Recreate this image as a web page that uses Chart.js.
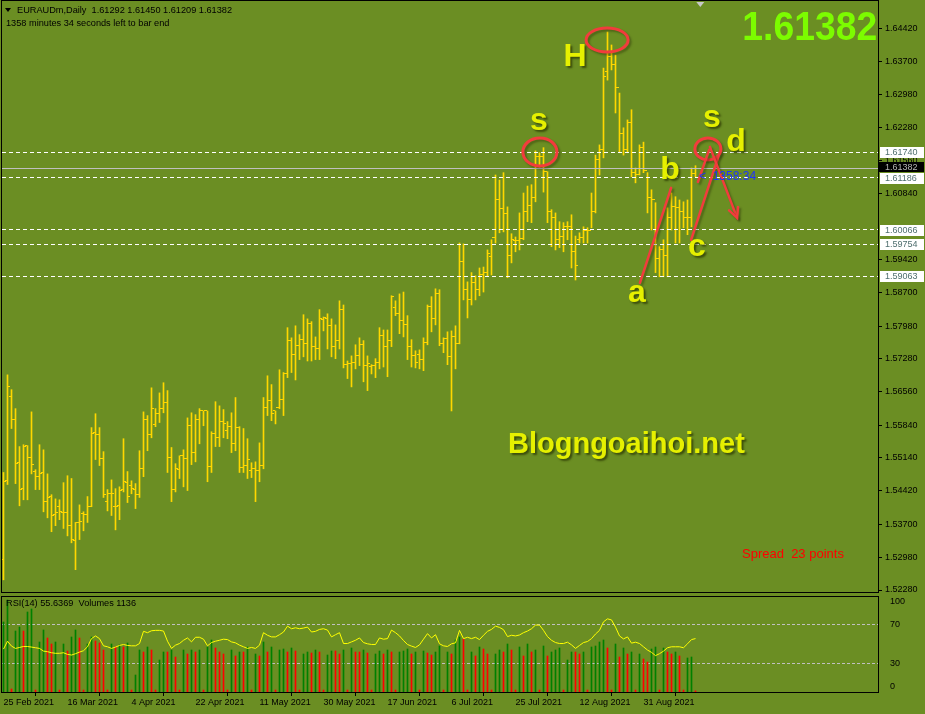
<!DOCTYPE html>
<html>
<head>
<meta charset="utf-8">
<title>EURAUDm, Daily</title>
<script src="https://cdn.jsdelivr.net/npm/chart.js@4.4.1/dist/chart.umd.min.js"></script>
<style>
  html, body { margin: 0; padding: 0; background: #6b8e23; }
  #stage { position: relative; width: 925px; height: 714px; overflow: hidden; background: #6b8e23;
           font-family: "Liberation Sans", Arial, sans-serif; }
  canvas { position: absolute; left: 0; }
  #priceCanvas { top: 0; }
  #rsiCanvas { top: 590px; }
  .lbl { position: absolute; white-space: pre; font-size: 9.2px; line-height: 11px; color: #000; }
  .tri { position: absolute; left: 5px; top: 8px; width: 0; height: 0;
         border-left: 3px solid transparent; border-right: 3px solid transparent; border-top: 4px solid #000; }
  .wave { position: absolute; font: bold 32px/32px "Liberation Sans", Arial, sans-serif; color: #e6f000;
          text-shadow: 2px 2px 2px rgba(40, 50, 0, .7); transform: translate(-50%, -50%); }
  #blog { position: absolute; left: 508px; top: 429px; font: bold 29px/29px "Liberation Sans", Arial, sans-serif;
          color: #e6f000; text-shadow: 2px 2px 2px rgba(40, 50, 0, .7); white-space: pre; }
  #bigPrice { position: absolute; right: 48px; top: 6px; font: bold 41px/41px "Liberation Sans", Arial, sans-serif;
              color: #7cfc00; transform: scaleX(0.91); transform-origin: right top; }
  #spread { position: absolute; left: 742px; top: 547px; font: 13px/13px "Liberation Sans", Arial, sans-serif;
            color: #ff0000; white-space: pre; }
  #timer { position: absolute; left: 699px; top: 170px; font: 12px/12px "Liberation Sans", Arial, sans-serif;
           color: #1e32ff; white-space: pre; }
</style>
</head>
<body>
<div id="stage">
  <canvas id="priceCanvas" width="925" height="596"></canvas>
  <canvas id="rsiCanvas" width="925" height="124"></canvas>

  <div class="tri"></div>
  <div class="lbl" style="left:17px;top:5px">EURAUDm,Daily  1.61292 1.61450 1.61209 1.61382</div>
  <div class="lbl" style="left:6px;top:18px">1358 minutes 34 seconds left to bar end</div>
  <div class="lbl" style="left:6px;top:598px">RSI(14) 55.6369  Volumes 1136</div>

  <div id="bigPrice">1.61382</div>
  <div class="wave" style="left:575px;top:55px">H</div>
  <div class="wave" style="left:539px;top:119px">s</div>
  <div class="wave" style="left:712px;top:116px">s</div>
  <div class="wave" style="left:736px;top:140px">d</div>
  <div class="wave" style="left:670px;top:168px">b</div>
  <div class="wave" style="left:697px;top:245px">c</div>
  <div class="wave" style="left:637px;top:291px">a</div>
  <div id="blog">Blogngoaihoi.net</div>
  <div id="spread">Spread  23 points</div>
  <div id="timer">&lt;  1358:34</div>
</div>

<script>
// ---------- Data (daily bars, 25 Feb 2021 .. 15 Sep 2021) ----------
const priceHigh = [
  1.5482,1.5693,1.5661,1.5620,1.5538,1.5542,1.5540,1.5613,1.5488,1.5542,
  1.5531,1.5479,1.5434,1.5425,1.5423,1.5460,1.5475,1.5469,1.5374,1.5412,
  1.5397,1.5430,1.5579,1.5609,1.5579,1.5527,1.5445,1.5466,1.5447,1.5451,
  1.5555,1.5484,1.5464,1.5458,1.5529,1.5613,1.5605,1.5665,1.5620,1.5654,
  1.5676,1.5659,1.5536,1.5501,1.5518,1.5531,1.5600,1.5611,1.5607,1.5620,
  1.5615,1.5615,1.5570,1.5635,1.5626,1.5618,1.5592,1.5611,1.5644,1.5581,
  1.5577,1.5555,1.5503,1.5505,1.5546,1.5644,1.5691,1.5672,1.5615,1.5704,
  1.5698,1.5795,1.5773,1.5799,1.5780,1.5823,1.5814,1.5808,1.5775,1.5834,
  1.5818,1.5825,1.5814,1.5801,1.5853,1.5844,1.5723,1.5734,1.5758,1.5773,
  1.5767,1.5734,1.5715,1.5728,1.5795,1.5790,1.5790,1.5864,1.5853,1.5868,
  1.5872,1.5821,1.5769,1.5745,1.5747,1.5773,1.5844,1.5862,1.5879,1.5877,
  1.5773,1.5786,1.5788,1.5799,1.5978,1.5976,1.5894,1.5914,1.5907,1.5924,
  1.5926,1.5963,1.5985,1.6125,1.6114,1.6130,1.6056,1.5998,1.5991,1.6043,
  1.6086,1.6101,1.6104,1.6177,1.6173,1.6184,1.6132,1.6050,1.6043,1.6024,
  1.6022,1.6024,1.6039,1.5993,1.6000,1.6013,1.6011,1.6086,1.6168,1.6190,
  1.6356,1.6434,1.6406,1.6384,1.6302,1.6227,1.6244,1.6266,1.6140,1.6190,
  1.6196,1.6130,1.6093,1.6065,1.5970,1.5985,1.6054,1.6086,1.6078,1.6071,
  1.6067,1.6071,1.6140,1.61450
];
const priceLow = [
  1.5250,1.5456,1.5577,1.5458,1.5410,1.5423,1.5423,1.5479,1.5445,1.5445,
  1.5397,1.5384,1.5354,1.5367,1.5380,1.5361,1.5345,1.5330,1.5272,1.5337,
  1.5356,1.5374,1.5408,1.5510,1.5497,1.5428,1.5399,1.5389,1.5358,1.5380,
  1.5440,1.5417,1.5436,1.5404,1.5428,1.5473,1.5529,1.5557,1.5581,1.5590,
  1.5611,1.5482,1.5419,1.5440,1.5469,1.5451,1.5443,1.5499,1.5505,1.5544,
  1.5583,1.5462,1.5482,1.5538,1.5538,1.5557,1.5555,1.5525,1.5529,1.5482,
  1.5482,1.5469,1.5471,1.5419,1.5462,1.5490,1.5605,1.5594,1.5587,1.5620,
  1.5605,1.5687,1.5698,1.5682,1.5726,1.5732,1.5723,1.5723,1.5726,1.5726,
  1.5788,1.5749,1.5732,1.5728,1.5749,1.5708,1.5685,1.5667,1.5706,1.5713,
  1.5678,1.5659,1.5695,1.5687,1.5706,1.5710,1.5689,1.5754,1.5821,1.5782,
  1.5775,1.5726,1.5710,1.5708,1.5706,1.5702,1.5758,1.5786,1.5801,1.5756,
  1.5741,1.5715,1.5615,1.5706,1.5760,1.5855,1.5816,1.5844,1.5855,1.5864,
  1.5872,1.5907,1.5909,1.5978,1.6000,1.6002,1.5903,1.5935,1.5959,1.5963,
  1.5985,1.6024,1.6022,1.6067,1.6142,1.6088,1.6022,1.5970,1.5963,1.5968,
  1.5959,1.5985,1.5924,1.5898,1.5978,1.5978,1.5978,1.6011,1.6043,1.6125,
  1.6162,1.6330,1.6352,1.6259,1.6173,1.6168,1.6173,1.6121,1.6108,1.6125,
  1.6130,1.6043,1.6006,1.5914,1.5905,1.5905,1.5905,1.6006,1.5978,1.5978,
  1.6011,1.5996,1.6013,1.61209
];
const priceOpen = [
  1.5294,1.5464,1.5646,1.5596,1.5503,1.5447,1.5540,1.5514,1.5484,1.5473,
  1.5482,1.5419,1.5430,1.5391,1.5408,1.5395,1.5395,1.5367,1.5335,1.5374,
  1.5393,1.5391,1.5408,1.5568,1.5564,1.5512,1.5419,1.5436,1.5408,1.5410,
  1.5445,1.5460,1.5453,1.5445,1.5434,1.5490,1.5596,1.5564,1.5585,1.5609,
  1.5620,1.5633,1.5514,1.5445,1.5488,1.5518,1.5512,1.5583,1.5525,1.5596,
  1.5615,1.5615,1.5494,1.5566,1.5557,1.5592,1.5572,1.5581,1.5544,1.5579,
  1.5492,1.5497,1.5486,1.5490,1.5486,1.5497,1.5622,1.5637,1.5615,1.5622,
  1.5639,1.5695,1.5767,1.5736,1.5756,1.5769,1.5760,1.5803,1.5754,1.5749,
  1.5812,1.5814,1.5799,1.5754,1.5767,1.5834,1.5715,1.5717,1.5719,1.5734,
  1.5758,1.5713,1.5710,1.5713,1.5719,1.5777,1.5754,1.5767,1.5838,1.5825,
  1.5810,1.5801,1.5754,1.5734,1.5736,1.5726,1.5762,1.5840,1.5814,1.5868,
  1.5760,1.5771,1.5732,1.5775,1.5760,1.5939,1.5877,1.5855,1.5892,1.5877,
  1.5909,1.5914,1.5948,1.5989,1.6071,1.6052,1.6041,1.5952,1.5983,1.5983,
  1.5987,1.6045,1.6060,1.6076,1.6164,1.6164,1.6132,1.6045,1.6034,1.5985,
  1.5991,1.6013,1.6013,1.5959,1.5985,1.5989,1.6006,1.6006,1.6045,1.6158,
  1.6179,1.6348,1.6382,1.6363,1.6313,1.6214,1.6179,1.6238,1.6130,1.6127,
  1.6184,1.6134,1.6076,1.6071,1.5944,1.5963,1.5952,1.6034,1.6056,1.6054,
  1.6045,1.6034,1.6034,1.61292
];
const priceClose = [
  1.5462,1.5667,1.5596,1.5501,1.5445,1.5538,1.5514,1.5499,1.5473,1.5479,
  1.5419,1.5428,1.5389,1.5395,1.5397,1.5395,1.5367,1.5337,1.5374,1.5376,
  1.5391,1.5408,1.5566,1.5564,1.5512,1.5434,1.5436,1.5436,1.5408,1.5443,
  1.5462,1.5430,1.5447,1.5434,1.5490,1.5596,1.5564,1.5620,1.5609,1.5620,
  1.5633,1.5514,1.5445,1.5490,1.5518,1.5512,1.5583,1.5525,1.5596,1.5615,
  1.5615,1.5494,1.5566,1.5557,1.5592,1.5587,1.5581,1.5544,1.5579,1.5492,
  1.5497,1.5510,1.5490,1.5486,1.5497,1.5622,1.5637,1.5609,1.5622,1.5639,
  1.5695,1.5767,1.5736,1.5756,1.5769,1.5760,1.5803,1.5754,1.5749,1.5814,
  1.5816,1.5799,1.5754,1.5767,1.5834,1.5715,1.5717,1.5719,1.5734,1.5758,
  1.5713,1.5717,1.5713,1.5719,1.5777,1.5754,1.5767,1.5862,1.5825,1.5810,
  1.5801,1.5754,1.5734,1.5719,1.5726,1.5762,1.5840,1.5814,1.5868,1.5760,
  1.5771,1.5732,1.5775,1.5760,1.5939,1.5877,1.5855,1.5892,1.5877,1.5909,
  1.5914,1.5955,1.5989,1.6071,1.6052,1.6041,1.5952,1.5985,1.5983,1.5987,
  1.6045,1.6060,1.6076,1.6164,1.6164,1.6132,1.6045,1.6034,1.5985,1.5991,
  1.6013,1.6013,1.5959,1.5929,1.5989,1.6006,1.6006,1.6045,1.6158,1.6179,
  1.6337,1.6382,1.6363,1.6313,1.6214,1.6179,1.6238,1.6130,1.6127,1.6184,
  1.6134,1.6076,1.6071,1.5944,1.5963,1.5952,1.6034,1.6056,1.6054,1.6045,
  1.6034,1.6034,1.6129,1.61382
];
const rsiValues = [
  44.7,52.9,47.8,45.4,46.4,47.4,47.4,46.8,46.1,45.4,
  42.6,42.0,40.9,40.3,40.3,40.9,39.2,38.5,39.9,41.6,
  43.0,47.1,55.6,58.4,55.6,48.1,47.1,45.4,46.8,48.5,
  49.5,48.5,48.1,48.1,50.5,63.2,61.8,63.8,64.2,64.2,
  63.5,52.9,45.4,48.8,50.5,53.9,56.3,52.2,57.0,57.0,
  55.0,48.1,51.5,52.9,53.9,55.0,54.6,52.2,51.2,48.8,
  47.1,45.4,46.4,45.4,48.8,61.8,59.1,57.4,57.4,59.7,
  62.5,68.6,65.9,66.9,65.9,66.6,67.6,62.5,63.2,65.2,
  65.9,64.5,57.4,59.7,61.8,50.5,50.5,52.2,53.9,56.3,
  51.5,50.2,49.5,49.5,56.3,55.0,55.6,64.5,61.8,58.4,
  53.6,49.5,47.8,46.4,49.1,55.0,60.8,56.3,59.7,50.2,
  48.1,47.4,50.2,51.2,64.2,55.6,57.0,55.6,57.0,54.6,
  59.1,63.2,65.2,68.6,67.3,64.9,57.7,59.1,58.4,59.4,
  61.8,63.5,65.9,69.7,69.7,64.2,57.7,53.9,51.5,50.5,
  50.5,51.9,49.1,45.4,48.5,51.5,52.6,55.6,60.4,64.2,
  73.1,76.2,75.1,67.6,58.4,55.3,57.4,50.9,51.9,50.5,
  47.1,43.7,41.3,37.9,39.9,42.6,46.1,47.1,47.1,47.1,
  46.1,50.2,54.6,55.6369
];
const tickVolumes = [
  70000,92000,3000,61000,65000,61000,80000,83000,2000,50000,62000,54000,
  48000,50000,2000,48000,41000,55000,62000,54000,2000,48000,55000,51000,
  49000,42000,2000,48000,45000,47000,45000,49000,2000,17000,42000,40000,
  45000,42000,2000,32000,40000,40000,42000,35000,2000,42000,38000,42000,
  40000,42000,2000,45000,52000,44000,40000,38000,2000,42000,36000,40000,
  40000,45000,2000,38000,36000,50000,40000,45000,2000,42000,43000,40000,
  44000,41000,2000,38000,40000,39000,42000,40000,2000,37000,41000,41000,
  38000,42000,2000,44000,40000,40000,42000,39000,2000,38000,41000,38000,
  42000,40000,2000,40000,41000,43000,38000,40000,2000,41000,39000,37000,
  40000,46000,2000,40000,38000,52000,55000,53000,2000,40000,36000,45000,
  43000,38000,2000,38000,42000,40000,48000,42000,2000,45000,36000,48000,
  40000,42000,2000,46000,36000,40000,42000,44000,2000,32000,40000,40000,
  38000,40000,2000,45000,46000,50000,52000,44000,2000,48000,35000,44000,
  38000,40000,2000,38000,33000,30000,43000,45000,2000,44000,40000,38000,
  40000,36000,2000,34000,35000,1136
];

const priceTicks = [1.64420, 1.63700, 1.62980, 1.62280, 1.61560, 1.60840, 1.59420, 1.58700, 1.57980,
                    1.57280, 1.56560, 1.55840, 1.55140, 1.54420, 1.53700, 1.52980, 1.52280];
const dateIndex = [0, 16, 32, 48, 64, 80, 96, 112, 128, 144, 160];
const dateLabels = ['25 Feb 2021', '16 Mar 2021', '4 Apr 2021', '22 Apr 2021', '11 May 2021', '30 May 2021',
                    '17 Jun 2021', '6 Jul 2021', '25 Jul 2021', '12 Aug 2021', '31 Aug 2021'];
const levelPrices = [1.61740, 1.61186, 1.60066, 1.59754, 1.59063];
const bidPrice = 1.61382;
const rsiLevels = [70, 30];
const rsiLabelAt = [93.8, 70, 30, 6.2];
const rsiLabels = ['100', '70', '30', '0'];

// wave markup drawn on the chart (bar index / price)
const marks = [
  { i: 150.9, p: 1.64168, rx: 21, ry: 12 },
  { i: 134.1, p: 1.61749, rx: 17, ry: 14 },
  { i: 176.1, p: 1.61814, rx: 13, ry: 11 }
];
const strokes = [
  { from: [159.1, 1.58919], to: [166.9, 1.60971] },
  { from: [171.9, 1.59848], to: [179.1, 1.61749] },
  { from: [176.4, 1.61792], to: [173.6, 1.61101] },
  { from: [176.6, 1.61857], to: [183.4, 1.60323], arrow: true }
];

// ---------- Style ----------
const BAR_COLOR = '#ffd700';
const X_MIN = -0.375, X_MAX = 218.625;
const FONT = { family: 'Liberation Sans', size: 9 };

function fixRightAxis(scale) {
  scale.width = 47;
  scale.paddingTop = 0;
  scale.paddingBottom = 0;
}

const priceOverlay = {
  id: 'priceOverlay',
  afterDatasetsDraw(chart) {
    const { ctx, chartArea: a, scales: { x, y } } = chart;
    ctx.save();
    // open / close ticks
    ctx.fillStyle = BAR_COLOR;
    priceOpen.forEach((o, i) => {
      const px = Math.floor(x.getPixelForValue(i));
      ctx.fillRect(px - 2, Math.floor(y.getPixelForValue(o)), 2, 1);
      ctx.fillRect(px + 1, Math.floor(y.getPixelForValue(priceClose[i])), 2, 1);
    });
    // horizontal levels
    ctx.lineWidth = 1;
    ctx.strokeStyle = '#ffffff';
    ctx.setLineDash([4, 3]);
    levelPrices.forEach((p) => {
      const yy = Math.floor(y.getPixelForValue(p)) + 0.5;
      ctx.beginPath(); ctx.moveTo(a.left, yy); ctx.lineTo(a.right, yy); ctx.stroke();
    });
    ctx.setLineDash([]);
    ctx.strokeStyle = '#c0c0c0';
    const yb = Math.floor(y.getPixelForValue(bidPrice)) + 0.5;
    ctx.beginPath(); ctx.moveTo(a.left, yb); ctx.lineTo(a.right, yb); ctx.stroke();

    // red markup
    ctx.strokeStyle = '#f23c3c';
    ctx.shadowColor = 'rgba(30,30,0,0.35)';
    ctx.shadowOffsetX = 2; ctx.shadowOffsetY = 2; ctx.shadowBlur = 2;
    ctx.lineWidth = 3;
    marks.forEach((m) => {
      ctx.beginPath();
      ctx.ellipse(x.getPixelForValue(m.i), y.getPixelForValue(m.p), m.rx, m.ry, 0, 0, Math.PI * 2);
      ctx.stroke();
    });
    ctx.lineWidth = 2.5;
    ctx.lineCap = 'round';
    strokes.forEach((s) => {
      const x0 = x.getPixelForValue(s.from[0]), y0 = y.getPixelForValue(s.from[1]);
      const x1 = x.getPixelForValue(s.to[0]), y1 = y.getPixelForValue(s.to[1]);
      ctx.beginPath(); ctx.moveTo(x0, y0); ctx.lineTo(x1, y1); ctx.stroke();
      if (s.arrow) {
        const ang = Math.atan2(y1 - y0, x1 - x0);
        ctx.beginPath();
        ctx.moveTo(x1 - 11 * Math.cos(ang - 0.45), y1 - 11 * Math.sin(ang - 0.45));
        ctx.lineTo(x1, y1);
        ctx.lineTo(x1 - 11 * Math.cos(ang + 0.45), y1 - 11 * Math.sin(ang + 0.45));
        ctx.stroke();
      }
    });
    ctx.restore();
  },
  afterDraw(chart) {
    const { ctx, chartArea: a, scales: { x, y } } = chart;
    ctx.save();
    // frame
    ctx.strokeStyle = '#000';
    ctx.lineWidth = 1;
    ctx.strokeRect(a.left - 0.5, 0.5, a.right - a.left + 1, a.bottom);
    // price boxes on the right axis
    ctx.font = '9px "Liberation Sans", Arial, sans-serif';
    ctx.textBaseline = 'middle';
    levelPrices.forEach((p) => {
      const yy = Math.round(y.getPixelForValue(p));
      ctx.fillStyle = '#ffffff';
      ctx.fillRect(a.right + 2, yy - 5, 44, 11);
      ctx.fillStyle = '#4f6f6f';
      ctx.fillText(p.toFixed(5), a.right + 7, yy + 0.5);
    });
    const yb = Math.round(y.getPixelForValue(bidPrice));
    ctx.fillStyle = '#000000';
    ctx.fillRect(a.right + 1, yb - 7, 45, 10);
    ctx.fillStyle = '#b4b4b4';
    ctx.fillText(bidPrice.toFixed(5), a.right + 7, yb - 1.5);
    // chart shift marker
    const xs = x.getPixelForValue(174.2);
    ctx.fillStyle = '#c8c8c8';
    ctx.beginPath(); ctx.moveTo(xs - 4, 2); ctx.lineTo(xs + 4, 2); ctx.lineTo(xs, 7); ctx.closePath(); ctx.fill();
    ctx.restore();
  }
};

new Chart(document.getElementById('priceCanvas'), {
  type: 'bar',
  data: {
    datasets: [{
      data: priceLow.map((lo, i) => ({ x: i, y: [lo, priceHigh[i]] })),
      backgroundColor: BAR_COLOR,
      borderWidth: 0,
      barThickness: 1
    }]
  },
  options: {
    responsive: false,
    animation: false,
    devicePixelRatio: 1,
    events: [],
    layout: { padding: { left: 2, top: 1, right: 0, bottom: 4 } },
    plugins: { legend: { display: false }, tooltip: { enabled: false } },
    scales: {
      x: { type: 'linear', min: X_MIN, max: X_MAX, offset: false, display: false },
      y: {
        position: 'right',
        min: 1.52237,
        max: 1.65010,
        bounds: 'data',
        afterBuildTicks: (s) => { s.ticks = priceTicks.map((v) => ({ value: v })); },
        afterFit: fixRightAxis,
        grid: { drawOnChartArea: false, color: '#000', tickLength: 4 },
        border: { display: false },
        ticks: { color: '#000', font: FONT, padding: 3, callback: (v) => Number(v).toFixed(5) }
      }
    }
  },
  plugins: [priceOverlay]
});

// ---------- RSI + Volumes window ----------
const volColors = tickVolumes.map((v, i) => (i === 0 || v > tickVolumes[i - 1] ? '#008000' : '#ff0000'));

const rsiOverlay = {
  id: 'rsiOverlay',
  beforeDatasetsDraw(chart) {
    const { ctx, chartArea: a, scales: { yRsi } } = chart;
    ctx.save();
    ctx.strokeStyle = '#c0c0c0';
    ctx.lineWidth = 1;
    ctx.setLineDash([3, 2]);
    rsiLevels.forEach((lv) => {
      const yy = Math.floor(yRsi.getPixelForValue(lv)) + 0.5;
      ctx.beginPath(); ctx.moveTo(a.left, yy); ctx.lineTo(a.right, yy); ctx.stroke();
    });
    ctx.restore();
  },
  afterDraw(chart) {
    const { ctx, chartArea: a } = chart;
    ctx.save();
    ctx.strokeStyle = '#000';
    ctx.lineWidth = 1;
    ctx.strokeRect(a.left - 0.5, a.top + 0.5, a.right - a.left + 1, a.bottom - a.top);
    ctx.restore();
  }
};

new Chart(document.getElementById('rsiCanvas'), {
  type: 'bar',
  data: {
    datasets: [
      {
        type: 'line',
        data: rsiValues.map((v, i) => ({ x: i, y: v })),
        yAxisID: 'yRsi',
        borderColor: '#ffff00',
        borderWidth: 1,
        pointRadius: 0,
        tension: 0
      },
      {
        type: 'bar',
        data: tickVolumes.map((v, i) => ({ x: i, y: v })),
        yAxisID: 'yVol',
        backgroundColor: volColors,
        borderWidth: 0,
        barThickness: 1
      }
    ]
  },
  options: {
    responsive: false,
    animation: false,
    devicePixelRatio: 1,
    events: [],
    layout: { padding: { left: 2, top: 6, right: 0, bottom: 0 } },
    plugins: { legend: { display: false }, tooltip: { enabled: false } },
    scales: {
      x: {
        type: 'linear', min: X_MIN, max: X_MAX, offset: false, position: 'bottom',
        afterBuildTicks: (s) => { s.ticks = dateIndex.map((v) => ({ value: v })); },
        afterFit: (s) => { s.height = 22; s.paddingLeft = 0; s.paddingRight = 0; },
        grid: { drawOnChartArea: false, color: '#000', tickLength: 4 },
        border: { display: false },
        ticks: { align: 'start', color: '#000', font: FONT, padding: 1, maxRotation: 0, minRotation: 0,
                 autoSkip: false, callback: (v, idx) => dateLabels[idx] }
      },
      yRsi: {
        position: 'right', min: 0, max: 100,
        afterBuildTicks: (s) => { s.ticks = rsiLabelAt.map((v) => ({ value: v })); },
        afterFit: fixRightAxis,
        grid: { drawOnChartArea: false, display: false },
        border: { display: false },
        ticks: { color: '#000', font: FONT, padding: 4, callback: (v, idx) => rsiLabels[idx] }
      },
      yVol: { display: false, min: 0, max: 96000 }
    }
  },
  plugins: [rsiOverlay]
});
</script>
</body>
</html>
